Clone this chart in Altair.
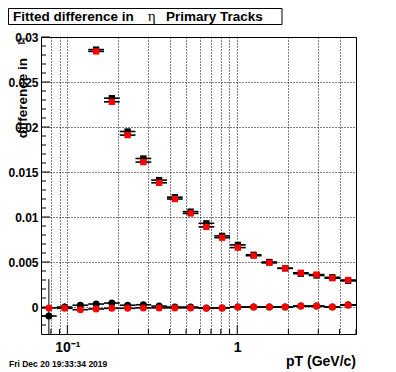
import altair as alt
import pandas as pd
import math

# ---- data ----
bin_edges = [0.07, 0.08665, 0.10727, 0.13279, 0.16438, 0.20349, 0.25190, 0.31183,
             0.38602, 0.47786, 0.59155, 0.73229, 0.90651, 1.12218, 1.38916,
             1.71966, 2.12878, 2.63524, 3.26220, 4.03831, 5.0]

# squares (first three bins empty)
sq_black = [None, None, None, 0.0286, 0.0232, 0.0195, 0.0165, 0.0141, 0.0122, 0.0106,
            0.0093, 0.0079, 0.0069, 0.0058, 0.0050, 0.0043, 0.0037, 0.0035, 0.0033, 0.0029]
sq_red = [None, None, None, 0.0284, 0.0228, 0.0191, 0.0161, 0.0138, 0.0120, 0.0104,
          0.0089, 0.0077, 0.0066, 0.0057, 0.0049, 0.0043, 0.0038, 0.0036, 0.0032, 0.0030]
sq_err = [None, None, None, 0.0002, 0.0002, 0.0002, 0.0002, 0.0002, 0.0002, 0.0002,
          0.0002, 0.0002, 0.0002, 0.0002, 0.0002, 0.0002, 0.0002, 0.0002, 0.0002, 0.0002]

# circles near zero
ci_black = [-0.0010, 0.0000, 0.0002, 0.00033, 0.00044, 0.0002, 0.00025, 0.0001, 0.0000, 0.0000,
            -0.0001, -0.0001, 0.0000, 0.0000, 0.0000, 0.0000, 0.0001, 0.0001, 0.0000, 0.00025]
ci_black_err = [0.0041, 0.0004, 0.0002, 0.0002, 0.0002, 0.0002, 0.0002, 0.0002, 0.0002, 0.0002,
                0.0002, 0.0002, 0.0002, 0.0002, 0.0002, 0.0002, 0.0002, 0.0002, 0.0002, 0.0002]
ci_red = [-0.0001, -0.00015, -0.0003, -0.00022, -0.00015, -0.00015, -0.0001, -0.0001, -0.0001, -0.0001,
          -0.00015, -0.0001, 0.0, 0.0, 0.0, 0.0, 0.0001, 0.0001, 0.0, 0.0002]
ci_red_err = [0.0002] * 20

x_major = [0.1, 1.0]
x_minor = [0.08, 0.09, 0.2, 0.3, 0.4, 0.5, 0.6, 0.7, 0.8, 0.9, 2.0, 3.0, 4.0, 5.0]
y_major = [0.0, 0.005, 0.01, 0.015, 0.02, 0.025, 0.03]
y_minor = [-0.002, -0.001, 0.001, 0.002, 0.003, 0.004, 0.006, 0.007, 0.008, 0.009,
           0.011, 0.012, 0.013, 0.014, 0.016, 0.017, 0.018, 0.019, 0.021, 0.022,
           0.023, 0.024, 0.026, 0.027, 0.028, 0.029]

title_parts = ["Fitted difference in", "η", "Primary Tracks"]
ytitle = "difference in"
xtitle = "pT (GeV/c)"
date_text = "Fri Dec 20 19:33:34 2019"

# ---- build tables ----
rows = []
for i in range(20):
    lo, hi = bin_edges[i], bin_edges[i + 1]
    c = math.sqrt(lo * hi)
    rows.append(dict(lo=lo, hi=hi, c=c,
                     sb=sq_black[i], sr=sq_red[i], se=sq_err[i],
                     cb=ci_black[i], cbe=ci_black_err[i],
                     cr=ci_red[i], cre=ci_red_err[i]))
df = pd.DataFrame(rows)
df["sb_lo"] = df["sb"] - df["se"]
df["sb_hi"] = df["sb"] + df["se"]
df["sr_lo"] = df["sr"] - df["se"]
df["sr_hi"] = df["sr"] + df["se"]
df["cb_lo"] = df["cb"] - df["cbe"]
df["cb_hi"] = df["cb"] + df["cbe"]
df["cr_lo"] = df["cr"] - df["cre"]
df["cr_hi"] = df["cr"] + df["cre"]
sq = df.dropna(subset=["sr"])

# plot area: page x 41..356, y 37..334 (page margin 8)
OX, OY = 41, 37
W, H = 315, 297
xs = alt.Scale(type="log", domain=[0.07, 5.0], nice=False)
ys = alt.Scale(domain=[-0.003, 0.03], nice=False, zero=False)

FONT = "Liberation Sans"

x_all = sorted(x_major + x_minor)
xaxis = alt.Axis(values=x_all, grid=True, gridDash=[1, 2], gridColor="black", gridOpacity=1,
                 gridWidth=1, ticks=False, tickSize=0, domain=False,
                 labelExpr="datum.value == 0.1 ? '10⁻¹' : (datum.value == 1 ? '1' : '')",
                 labelFont=FONT, labelFontWeight="bold", labelFontSize=14, labelColor="black",
                 labelPadding=6, labelFlush=False, labelOverlap=False, title=None)
yaxis = alt.Axis(values=y_major, grid=True, gridDash=[1, 2], gridColor="black", gridOpacity=1,
                 gridWidth=1, ticks=False, tickSize=0, domain=False, format="~g",
                 labelFont=FONT, labelFontWeight="bold", labelFontSize=12, labelColor="black",
                 labelPadding=3, labelOverlap=False, title=None)

base = alt.Chart(df)

grid = base.mark_point(opacity=0).encode(
    x=alt.X("c:Q", scale=xs, axis=xaxis),
    y=alt.Y("cb:Q", scale=ys, axis=yaxis))

# inward ticks
xmaj_t = alt.Chart(pd.DataFrame({"v": x_major})).mark_rule(color="black", strokeWidth=1).encode(
    x=alt.X("v:Q", scale=xs), y=alt.value(H), y2=alt.value(H - 9))
xmin_t = alt.Chart(pd.DataFrame({"v": x_minor})).mark_rule(color="black", strokeWidth=1).encode(
    x=alt.X("v:Q", scale=xs), y=alt.value(H), y2=alt.value(H - 5))
ymaj_t = alt.Chart(pd.DataFrame({"v": y_major})).mark_rule(color="black", strokeWidth=1).encode(
    y=alt.Y("v:Q", scale=ys), x=alt.value(0), x2=alt.value(9))
ymin_t = alt.Chart(pd.DataFrame({"v": y_minor})).mark_rule(color="black", strokeWidth=1).encode(
    y=alt.Y("v:Q", scale=ys), x=alt.value(0), x2=alt.value(5))

def hbar(data, yf):
    return alt.Chart(data).mark_rule(color="black", strokeWidth=1.6, clip=True).encode(
        x=alt.X("lo:Q", scale=xs), x2="hi:Q", y=alt.Y(f"{yf}:Q", scale=ys))

def vbar(data, lof, hif):
    return alt.Chart(data).mark_rule(color="black", strokeWidth=1, clip=True).encode(
        x=alt.X("c:Q", scale=xs), y=alt.Y(f"{lof}:Q", scale=ys), y2=f"{hif}:Q")

def pts(data, yf, shape, color, size):
    return alt.Chart(data).mark_point(shape=shape, filled=True, color=color, opacity=1,
                                      size=size, strokeWidth=0, clip=True).encode(
        x=alt.X("c:Q", scale=xs), y=alt.Y(f"{yf}:Q", scale=ys))

layers = [grid, xmaj_t, xmin_t, ymaj_t, ymin_t,
          hbar(df, "cb"), vbar(df, "cb_lo", "cb_hi"), pts(df, "cb", "circle", "black", 49),
          hbar(df, "cr"), vbar(df, "cr_lo", "cr_hi"), pts(df, "cr", "circle", "#ff0000", 49),
          hbar(sq, "sb"), vbar(sq, "sb_lo", "sb_hi"), pts(sq, "sb", "square", "black", 40),
          hbar(sq, "sr"), vbar(sq, "sr_lo", "sr_hi"), pts(sq, "sr", "square", "#ff0000", 40)]

# title box and texts (page coords converted to plot coords)
def px(v):
    return alt.value(v - OX)

def py(v):
    return alt.value(v - OY)

one = pd.DataFrame({"a": [0]})
tbox = alt.Chart(one).mark_rect(fill="white", stroke="black", strokeWidth=1).encode(
    x=px(8.5), x2=px(282), y=py(8.5), y2=py(24.5))
t1 = alt.Chart(one).mark_text(text=title_parts[0], font=FONT, fontWeight="bold", fontSize=13.5,
                              align="left", baseline="alphabetic", color="black").encode(
    x=px(13), y=py(20.5))
t2 = alt.Chart(one).mark_text(text=title_parts[1], font="Liberation Serif", fontSize=14.5,
                              align="left", baseline="alphabetic", color="black").encode(
    x=px(148), y=py(20.5))
t3 = alt.Chart(one).mark_text(text=title_parts[2], font=FONT, fontWeight="bold", fontSize=13.5,
                              align="left", baseline="alphabetic", color="black").encode(
    x=px(166), y=py(20.5))
yt = alt.Chart(one).mark_text(text=ytitle, font=FONT, fontWeight="bold", fontSize=13.5, angle=270,
                              align="right", baseline="alphabetic", color="black").encode(
    x=px(27), y=py(58))
yt2 = alt.Chart(one).mark_text(text="η", font="Liberation Serif", fontSize=14, angle=270,
                               align="center", baseline="alphabetic", color="black").encode(
    x=px(25), y=py(41))
xt = alt.Chart(one).mark_text(text=xtitle, font=FONT, fontWeight="bold", fontSize=14,
                              align="right", baseline="alphabetic", color="black").encode(
    x=px(356), y=py(366))
dt = alt.Chart(one).mark_text(text=date_text, font=FONT, fontWeight="bold", fontSize=8.5,
                              align="left", baseline="alphabetic", color="black").encode(
    x=px(9), y=py(367))

chart = alt.layer(*layers, tbox, t1, t2, t3, yt, yt2, xt, dt).properties(
    width=W, height=H,
    autosize=alt.AutoSizeParams(type="none"),
    padding={"left": OX - 8, "top": OY - 8, "right": 30, "bottom": 36},
    background="white",
).configure_view(stroke="black", strokeWidth=1)

chart.save("out.html", embed_options={"renderer": "svg", "actions": False})
